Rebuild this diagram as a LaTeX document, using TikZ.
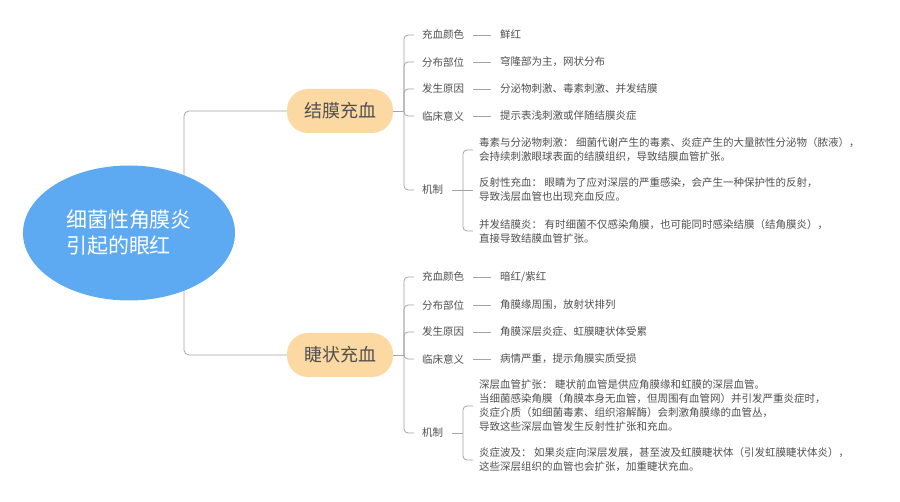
\documentclass[tikz,border=0pt]{standalone}
\usepackage{fontspec}
\setmainfont{Noto Sans CJK SC}
\usepackage{tikz}
\usetikzlibrary{positioning,shapes.geometric}

\definecolor{linegray}{HTML}{A4A4A4}
\definecolor{textgray}{HTML}{505050}
\definecolor{rootblue}{HTML}{5EAAF2}
\definecolor{peach}{HTML}{FCD9A2}

\begin{document}
\begin{tikzpicture}[x=1pt,y=-1pt,
    link/.style={draw=linegray, line width=0.8pt},
    topic/.style={ellipse, fill=rootblue, text=white, minimum width=212pt, minimum height=135pt, align=left, font=\fontsize{21}{26}\selectfont},
    subtopic/.style={rectangle, rounded corners=21pt, fill=peach, text=textgray, minimum width=106pt, minimum height=44pt, font=\fontsize{18}{20}\selectfont},
    item/.style={anchor=west, text=textgray, inner sep=3pt, font=\fontsize{10.5}{14}\selectfont},
    block/.style={anchor=west, text=textgray, inner xsep=6pt, inner ysep=1pt, align=left, font=\fontsize{10.5}{14}\selectfont}]
    \fill[white] (0,0) rectangle (900,502);
    \useasboundingbox (0,0) rectangle (900,502);

    \node[subtopic] (jm) at (340,111) {结膜充血};
    \node[subtopic] (jz) at (340,355) {睫状充血};
    \coordinate (rj) at (184,233);
    \draw[link, rounded corners=5pt] (rj) |- (jm.west);
    \draw[link, rounded corners=5pt] (rj) |- (jz.west);
    \node[topic] (root) at (129,233) {细菌性角膜炎\\引起的眼红};

    \node[item] (jm1) at (419,35) {充血颜色};
    \node[item] (jm1v) at (497,35) {鲜红};
    \node[item] (jm2) at (419,62) {分布部位};
    \node[item] (jm2v) at (497,62) {穹隆部为主，网状分布};
    \node[item] (jm3) at (419,89) {发生原因};
    \node[item] (jm3v) at (497,89) {分泌物刺激、毒素刺激、并发结膜};
    \node[item] (jm4) at (419,116) {临床意义};
    \node[item] (jm4v) at (497,116) {提示表浅刺激或伴随结膜炎症};
    \node[item] (jm5) at (419,190) {机制};
    \node[block] (jm5a) at (473,150) {毒素与分泌物刺激： 细菌代谢产生的毒素、炎症产生的大量脓性分泌物（脓液），\\会持续刺激眼球表面的结膜组织，导致结膜血管扩张。};
    \node[block] (jm5b) at (473,190) {反射性充血： 眼睛为了应对深层的严重感染，会产生一种保护性的反射，\\导致浅层血管也出现充血反应。};
    \node[block] (jm5c) at (473,231) {并发结膜炎： 有时细菌不仅感染角膜，也可能同时感染结膜（结角膜炎），\\直接导致结膜血管扩张。};

    \coordinate (jmj) at (404,111);
    \draw[link] (jm.east) -- (jmj);
    \draw[link, rounded corners=4pt, shorten >=5pt] (jmj) |- (jm1.west);
    \draw[link, rounded corners=4pt, shorten >=5pt] (jmj) |- (jm2.west);
    \draw[link, rounded corners=4pt, shorten >=5pt] (jmj) |- (jm3.west);
    \draw[link, rounded corners=4pt, shorten >=5pt] (jmj) |- (jm4.west);
    \draw[link, rounded corners=4pt, shorten >=5pt] (jmj) |- (jm5.west);
    \draw[link, shorten <=6pt, shorten >=6pt] (jm1.east) -- (jm1v.west);
    \draw[link, shorten <=6pt, shorten >=6pt] (jm2.east) -- (jm2v.west);
    \draw[link, shorten <=6pt, shorten >=6pt] (jm3.east) -- (jm3v.west);
    \draw[link, shorten <=6pt, shorten >=6pt] (jm4.east) -- (jm4v.west);
    \coordinate (jm5j) at (463,190);
    \draw[link, shorten <=6pt] (jm5.east) -- (jm5b.west);
    \draw[link, rounded corners=4pt] (jm5j) |- (jm5a.west);
    \draw[link, rounded corners=4pt] (jm5j) |- (jm5c.west);

    \node[item] (jz1) at (419,277) {充血颜色};
    \node[item] (jz1v) at (497,277) {暗红/紫红};
    \node[item] (jz2) at (419,305) {分布部位};
    \node[item] (jz2v) at (497,305) {角膜缘周围，放射状排列};
    \node[item] (jz3) at (419,332) {发生原因};
    \node[item] (jz3v) at (497,332) {角膜深层炎症、虹膜睫状体受累};
    \node[item] (jz4) at (419,359) {临床意义};
    \node[item] (jz4v) at (497,359) {病情严重，提示角膜实质受损};
    \node[item] (jz5) at (419,433) {机制};
    \node[block] (jz5a) at (473,406) {深层血管扩张： 睫状前血管是供应角膜缘和虹膜的深层血管。\\当细菌感染角膜（角膜本身无血管，但周围有血管网）并引发严重炎症时，\\炎症介质（如细菌毒素、组织溶解酶）会刺激角膜缘的血管丛，\\导致这些深层血管发生反射性扩张和充血。};
    \node[block] (jz5b) at (473,460) {炎症波及： 如果炎症向深层发展，甚至波及虹膜睫状体（引发虹膜睫状体炎），\\这些深层组织的血管也会扩张，加重睫状充血。};

    \coordinate (jzj) at (404,355);
    \draw[link] (jz.east) -- (jzj);
    \draw[link, rounded corners=4pt, shorten >=5pt] (jzj) |- (jz1.west);
    \draw[link, rounded corners=4pt, shorten >=5pt] (jzj) |- (jz2.west);
    \draw[link, rounded corners=4pt, shorten >=5pt] (jzj) |- (jz3.west);
    \draw[link, rounded corners=4pt, shorten >=5pt] (jzj) |- (jz4.west);
    \draw[link, rounded corners=4pt, shorten >=5pt] (jzj) |- (jz5.west);
    \draw[link, shorten <=6pt, shorten >=6pt] (jz1.east) -- (jz1v.west);
    \draw[link, shorten <=6pt, shorten >=6pt] (jz2.east) -- (jz2v.west);
    \draw[link, shorten <=6pt, shorten >=6pt] (jz3.east) -- (jz3v.west);
    \draw[link, shorten <=6pt, shorten >=6pt] (jz4.east) -- (jz4v.west);
    \coordinate (jz5j) at (463,433);
    \draw[link, shorten <=6pt] (jz5.east) -- (jz5j);
    \draw[link, rounded corners=4pt] (jz5j) |- (jz5a.west);
    \draw[link, rounded corners=4pt] (jz5j) |- (jz5b.west);
\end{tikzpicture}
\end{document}
